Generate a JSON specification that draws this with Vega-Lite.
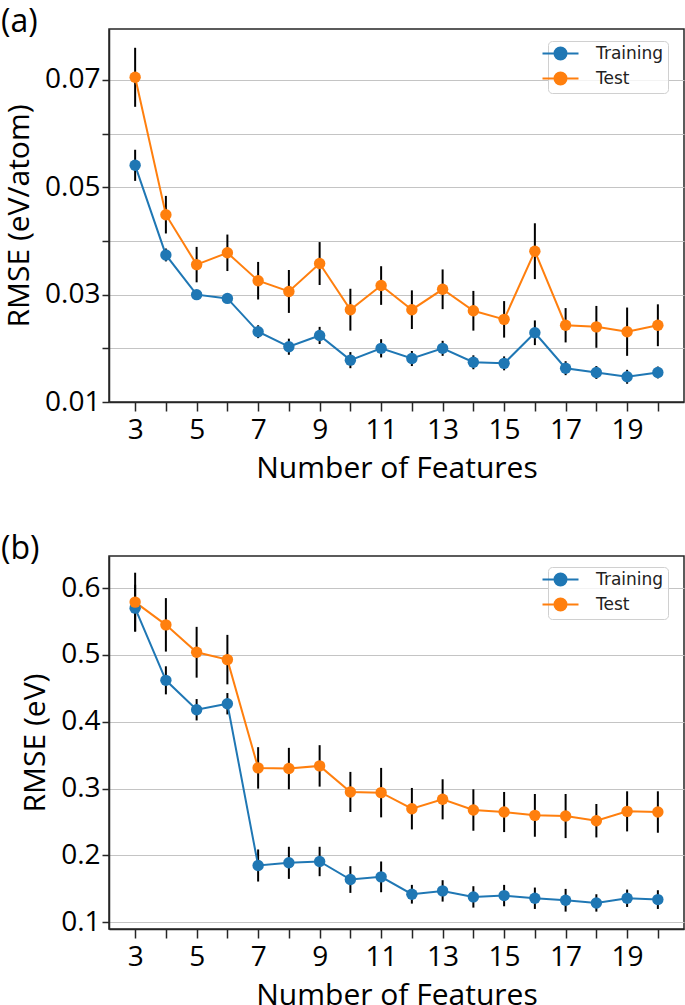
{
  "$schema": "https://vega.github.io/schema/vega-lite/v6.json",
  "padding": {"left": 0, "top": 5, "right": 0, "bottom": 0},
  "background": "white",
  "datasets": {
    "a": [
      {"n": 3, "set": "Training", "rmse": 0.0541, "err": 0.0029},
      {"n": 4, "set": "Training", "rmse": 0.0374, "err": 0.0012},
      {"n": 5, "set": "Training", "rmse": 0.0300, "err": 0.0006},
      {"n": 6, "set": "Training", "rmse": 0.0293, "err": 0.0008},
      {"n": 7, "set": "Training", "rmse": 0.0231, "err": 0.0012},
      {"n": 8, "set": "Training", "rmse": 0.0203, "err": 0.0015},
      {"n": 9, "set": "Training", "rmse": 0.0224, "err": 0.0016},
      {"n": 10, "set": "Training", "rmse": 0.0178, "err": 0.0015},
      {"n": 11, "set": "Training", "rmse": 0.0200, "err": 0.0017},
      {"n": 12, "set": "Training", "rmse": 0.0181, "err": 0.0014},
      {"n": 13, "set": "Training", "rmse": 0.0200, "err": 0.0014},
      {"n": 14, "set": "Training", "rmse": 0.0174, "err": 0.0013},
      {"n": 15, "set": "Training", "rmse": 0.0172, "err": 0.0013},
      {"n": 16, "set": "Training", "rmse": 0.0229, "err": 0.0023},
      {"n": 17, "set": "Training", "rmse": 0.0163, "err": 0.0013},
      {"n": 18, "set": "Training", "rmse": 0.0155, "err": 0.0012},
      {"n": 19, "set": "Training", "rmse": 0.0147, "err": 0.0013},
      {"n": 20, "set": "Training", "rmse": 0.0155, "err": 0.0011},
      {"n": 3, "set": "Test", "rmse": 0.0705, "err": 0.0055},
      {"n": 4, "set": "Test", "rmse": 0.0449, "err": 0.0035},
      {"n": 5, "set": "Test", "rmse": 0.0356, "err": 0.0033},
      {"n": 6, "set": "Test", "rmse": 0.0378, "err": 0.0034},
      {"n": 7, "set": "Test", "rmse": 0.0326, "err": 0.0035},
      {"n": 8, "set": "Test", "rmse": 0.0306, "err": 0.0040},
      {"n": 9, "set": "Test", "rmse": 0.0358, "err": 0.0040},
      {"n": 10, "set": "Test", "rmse": 0.0272, "err": 0.0039},
      {"n": 11, "set": "Test", "rmse": 0.0317, "err": 0.0036},
      {"n": 12, "set": "Test", "rmse": 0.0272, "err": 0.0036},
      {"n": 13, "set": "Test", "rmse": 0.0310, "err": 0.0037},
      {"n": 14, "set": "Test", "rmse": 0.0270, "err": 0.0037},
      {"n": 15, "set": "Test", "rmse": 0.0254, "err": 0.0034},
      {"n": 16, "set": "Test", "rmse": 0.0381, "err": 0.0052},
      {"n": 17, "set": "Test", "rmse": 0.0243, "err": 0.0032},
      {"n": 18, "set": "Test", "rmse": 0.0240, "err": 0.0039},
      {"n": 19, "set": "Test", "rmse": 0.0231, "err": 0.0045},
      {"n": 20, "set": "Test", "rmse": 0.0243, "err": 0.0039}
    ],
    "b": [
      {"n": 3, "set": "Training", "rmse": 0.570, "err": 0.035},
      {"n": 4, "set": "Training", "rmse": 0.462, "err": 0.021},
      {"n": 5, "set": "Training", "rmse": 0.418, "err": 0.016},
      {"n": 6, "set": "Training", "rmse": 0.427, "err": 0.016},
      {"n": 7, "set": "Training", "rmse": 0.185, "err": 0.024},
      {"n": 8, "set": "Training", "rmse": 0.189, "err": 0.024},
      {"n": 9, "set": "Training", "rmse": 0.191, "err": 0.022},
      {"n": 10, "set": "Training", "rmse": 0.164, "err": 0.020},
      {"n": 11, "set": "Training", "rmse": 0.168, "err": 0.023},
      {"n": 12, "set": "Training", "rmse": 0.142, "err": 0.014},
      {"n": 13, "set": "Training", "rmse": 0.147, "err": 0.016},
      {"n": 14, "set": "Training", "rmse": 0.138, "err": 0.016},
      {"n": 15, "set": "Training", "rmse": 0.140, "err": 0.016},
      {"n": 16, "set": "Training", "rmse": 0.136, "err": 0.016},
      {"n": 17, "set": "Training", "rmse": 0.133, "err": 0.017},
      {"n": 18, "set": "Training", "rmse": 0.129, "err": 0.013},
      {"n": 19, "set": "Training", "rmse": 0.136, "err": 0.013},
      {"n": 20, "set": "Training", "rmse": 0.134, "err": 0.014},
      {"n": 3, "set": "Test", "rmse": 0.579, "err": 0.044},
      {"n": 4, "set": "Test", "rmse": 0.545, "err": 0.040},
      {"n": 5, "set": "Test", "rmse": 0.504, "err": 0.038},
      {"n": 6, "set": "Test", "rmse": 0.493, "err": 0.037},
      {"n": 7, "set": "Test", "rmse": 0.331, "err": 0.031},
      {"n": 8, "set": "Test", "rmse": 0.330, "err": 0.031},
      {"n": 9, "set": "Test", "rmse": 0.334, "err": 0.031},
      {"n": 10, "set": "Test", "rmse": 0.295, "err": 0.030},
      {"n": 11, "set": "Test", "rmse": 0.294, "err": 0.037},
      {"n": 12, "set": "Test", "rmse": 0.270, "err": 0.031},
      {"n": 13, "set": "Test", "rmse": 0.284, "err": 0.030},
      {"n": 14, "set": "Test", "rmse": 0.268, "err": 0.031},
      {"n": 15, "set": "Test", "rmse": 0.265, "err": 0.030},
      {"n": 16, "set": "Test", "rmse": 0.260, "err": 0.032},
      {"n": 17, "set": "Test", "rmse": 0.259, "err": 0.033},
      {"n": 18, "set": "Test", "rmse": 0.252, "err": 0.025},
      {"n": 19, "set": "Test", "rmse": 0.266, "err": 0.030},
      {"n": 20, "set": "Test", "rmse": 0.265, "err": 0.031}
    ]
  },
  "config": {
    "font": "Open Sans",
    "view": {"stroke": "#262626", "strokeWidth": 1.5},
    "axis": {
      "labelFont": "Open Sans", "labelFontSize": 28, "labelColor": "#000",
      "titleFont": "Open Sans", "titleFontSize": 30, "titleFontWeight": "normal", "titleColor": "#000",
      "domainColor": "#262626", "domainWidth": 1.5,
      "tickColor": "#262626", "tickWidth": 1.5,
      "gridColor": "#c4c4c4", "gridWidth": 1.2,
      "labelOverlap": false
    },
    "axisX": {"grid": false, "tickSize": 9, "labelPadding": 5, "titlePadding": 9},
    "axisY": {"tickSize": 7, "labelPadding": 2, "titlePadding": 10},
    "legend": {
      "orient": "none", "legendX": 439, "title": null,
      "labelFont": "DejaVu Sans", "labelFontSize": 17, "labelColor": "#222",
      "labelExpr": "datum.label + ' '",
      "symbolType": "M-3,0L3,0M-1,0A1,1,0,1,1,1,0A1,1,0,1,1,-1,0Z",
      "symbolSize": 144, "symbolStrokeWidth": 2, "labelOffset": 27,
      "rowPadding": 4, "padding": 4,
      "fillColor": "rgba(255,255,255,0.8)", "strokeColor": "#d0d0d0", "cornerRadius": 4
    },
    "title": {"font": "Open Sans", "fontSize": 32, "fontWeight": "normal", "color": "#000", "anchor": "start", "frame": "group", "dx": -108, "baseline": "alphabetic", "offset": -10}
  },
  "spacing": 48,
  "resolve": {
    "scale": {"y": "independent", "color": "independent"},
    "legend": {"color": "independent"}
  },
  "vconcat": [
    {
      "title": {"text": "(a)"},
      "width": 575, "height": 373,
      "data": {"name": "a"},
      "encoding": {
        "x": {"field": "n", "type": "quantitative",
          "scale": {"domain": [2.15, 20.85], "nice": false, "zero": false},
          "axis": {"title": "Number of Features", "values": [3,4,5,6,7,8,9,10,11,12,13,14,15,16,17,18,19,20], "labelExpr": "datum.value % 2 == 1 ? datum.label : ''"}},
        "y": {"field": "rmse", "type": "quantitative",
          "scale": {"domain": [0.01, 0.0795], "nice": false, "zero": false},
          "axis": {"title": "RMSE (eV/atom)", "values": [0.01,0.02,0.03,0.04,0.05,0.06,0.07], "format": ".2f", "labelExpr": "indexof(['0.01','0.03','0.05','0.07'], datum.label) >= 0 ? datum.label : ''"}}
      },
      "layer": [
        {"mark": {"type": "errorbar", "color": "black", "thickness": 2}, "encoding": {"yError": {"field": "err"}}},
        {"mark": {"type": "line", "strokeWidth": 2, "point": {"filled": true, "size": 130, "opacity": 1}},
          "encoding": {"color": {"field": "set", "type": "nominal", "scale": {"domain": ["Training", "Test"], "range": ["#1f77b4", "#ff7f0e"]},
            "legend": {"legendY": 12}}}}
      ]
    },
    {
      "title": {"text": "(b)"},
      "width": 575, "height": 373,
      "data": {"name": "b"},
      "encoding": {
        "x": {"field": "n", "type": "quantitative",
          "scale": {"domain": [2.15, 20.85], "nice": false, "zero": false},
          "axis": {"title": "Number of Features", "values": [3,4,5,6,7,8,9,10,11,12,13,14,15,16,17,18,19,20], "labelExpr": "datum.value % 2 == 1 ? datum.label : ''"}},
        "y": {"field": "rmse", "type": "quantitative",
          "scale": {"domain": [0.09, 0.648], "nice": false, "zero": false},
          "axis": {"title": "RMSE (eV)", "values": [0.1,0.2,0.3,0.4,0.5,0.6], "format": ".1f"}}
      },
      "layer": [
        {"mark": {"type": "errorbar", "color": "black", "thickness": 2}, "encoding": {"yError": {"field": "err"}}},
        {"mark": {"type": "line", "strokeWidth": 2, "point": {"filled": true, "size": 130, "opacity": 1}},
          "encoding": {"color": {"field": "set", "type": "nominal", "scale": {"domain": ["Training", "Test"], "range": ["#1f77b4", "#ff7f0e"]},
            "legend": {"legendY": 11}}}}
      ]
    }
  ]
}
